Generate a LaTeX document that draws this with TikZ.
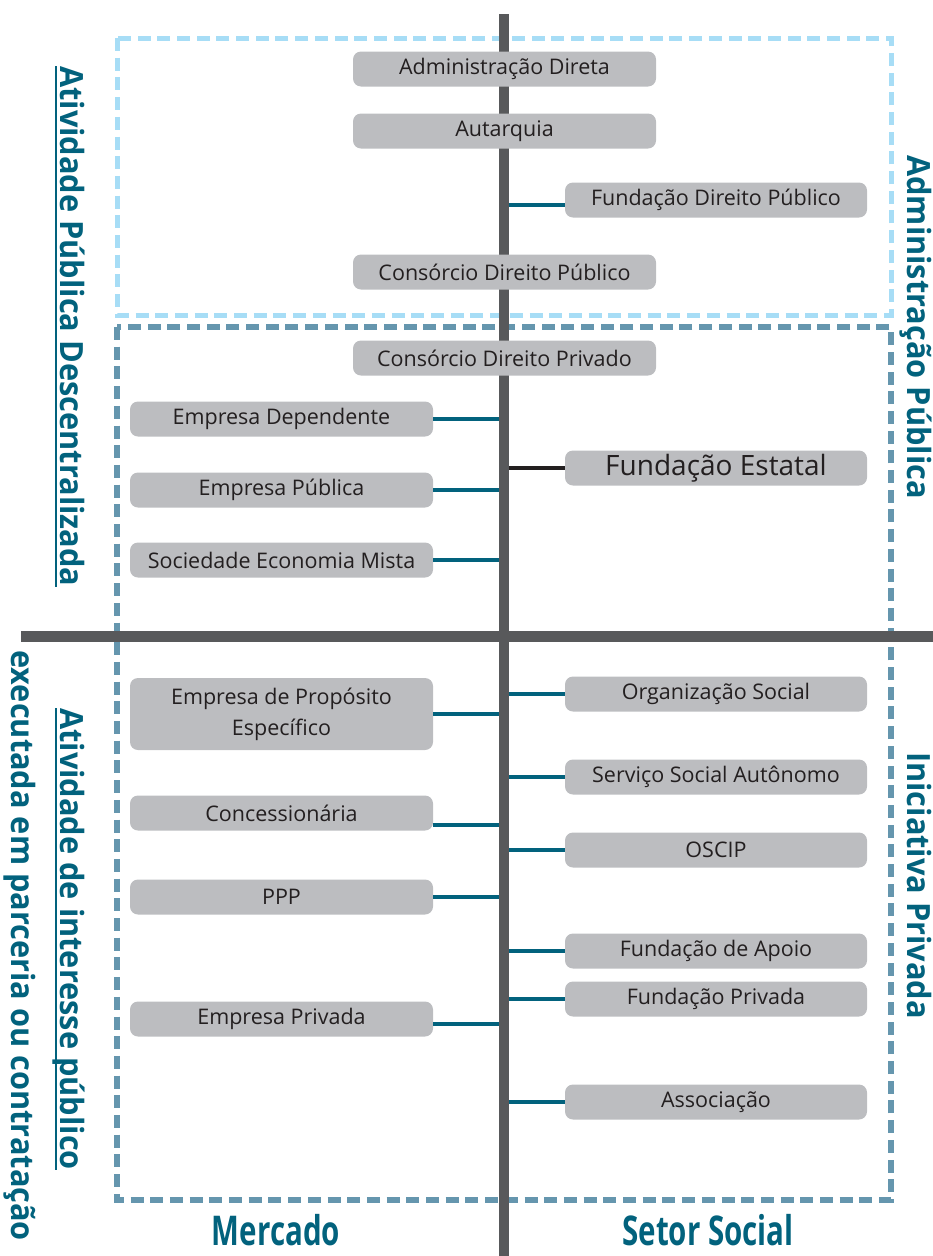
\documentclass[tikz,border=0pt]{standalone}
\usepackage{fontspec}
\setmainfont{Open Sans}
\newfontfamily\labfont[FakeStretch=0.96]{Open Sans}
\newfontfamily\colfont[FakeStretch=0.72]{Open Sans}
\definecolor{boxgray}{HTML}{BCBDC0}
\definecolor{txtdark}{HTML}{231F20}
\definecolor{teal}{HTML}{02627D}
\definecolor{spine}{HTML}{58595B}
\definecolor{lightdash}{HTML}{A7DDF6}
\definecolor{darkdash}{HTML}{6596AE}
\tikzset{
  gbox/.style={fill=boxgray, rounded corners=8pt, minimum height=35pt, inner sep=0pt,
    text=txtdark, font=\fontsize{21.5}{31}\selectfont, align=center},
  lbox/.style={gbox, minimum width=303pt},
  cbox/.style={gbox, minimum width=303pt},
  rbox/.style={gbox, minimum width=302pt},
  conn/.style={draw=teal, line width=4pt},
  sidelab/.style={rotate=-90, anchor=base west, inner sep=0pt, text=teal,
    font=\labfont\bfseries\fontsize{32}{36}\selectfont},
  ulline/.style={draw=teal, line width=2.5pt},
  collab/.style={anchor=base, inner sep=0pt, text=teal,
    font=\colfont\bfseries\fontsize{41}{46}\selectfont}
}
\begin{document}
\begin{tikzpicture}[x=1pt,y=-1pt]
\useasboundingbox (0,0) rectangle (933,1256);
% dashed frames
\draw[draw=lightdash, line width=5pt, dash pattern=on 13pt off 6.7pt]
  (117,38) rectangle (891,315);
\draw[draw=darkdash, line width=6pt, dash pattern=on 13pt off 6.7pt]
  (117,327) rectangle (891,1200);
% axes
\coordinate (spTop) at (504,14);
\coordinate (spBot) at (504,1256);
\coordinate (hL) at (21,636);
\coordinate (hR) at (933,636);
\draw[draw=spine, line width=11pt] (hL) -- (hR);
\draw[draw=spine, line width=10.5pt] (spTop) -- (spBot);
\coordinate (spL) at (499,0);
\coordinate (spR) at (509,0);
% boxes
\node[cbox] (adm) at (504.5,69) {Administração Direta};
\node[cbox] (aut) at (504.5,131) {Autarquia};
\node[rbox] (fdp) at (716,200) {Fundação Direito Público};
\node[cbox] (cdp) at (504.5,272) {Consórcio Direito Público};
\node[cbox] (cdpr) at (504.5,358) {Consórcio Direito Privado};
\node[lbox] (ed) at (281.5,419) {Empresa Dependente};
\node[lbox] (ep) at (281.5,490) {Empresa Pública};
\node[lbox] (sem) at (281.5,560) {Sociedade Economia Mista};
\node[rbox, font=\fontsize{28}{31}\selectfont] (fe) at (716,468) {Fundação Estatal};
\node[lbox, minimum height=72pt] (eps) at (281.5,714) {Empresa de Propósito\\Específico};
\node[lbox] (conc) at (281.5,813) {Concessionária};
\node[lbox] (ppp) at (281.5,897) {PPP};
\node[lbox] (epr) at (281.5,1019) {Empresa Privada};
\node[rbox] (os) at (716,694) {Organização Social};
\node[rbox] (ssa) at (716,777) {Serviço Social Autônomo};
\node[rbox] (oscip) at (716,850) {OSCIP};
\node[rbox] (fa) at (716,951) {Fundação de Apoio};
\node[rbox] (fp) at (716,999) {Fundação Privada};
\node[rbox] (assoc) at (716,1102) {Associação};
% connectors left
\draw[conn] (ed.east) -- (ed.east -| spL);
\draw[conn] (ep.east) -- (ep.east -| spL);
\draw[conn] (sem.east) -- (sem.east -| spL);
\draw[conn] (eps.east) -- (eps.east -| spL);
\draw[conn] ([yshift=-12pt]conc.east) -- ([yshift=-12pt]conc.east -| spL);
\draw[conn] (ppp.east) -- (ppp.east -| spL);
\draw[conn] ([yshift=-5pt]epr.east) -- ([yshift=-5pt]epr.east -| spL);
% connectors right
\draw[conn] ([yshift=-5pt]fdp.west -| spR) -- ([yshift=-5pt]fdp.west);
\draw[draw=txtdark, line width=3.5pt] (fe.west -| spR) -- (fe.west);
\draw[conn] (os.west -| spR) -- (os.west);
\draw[conn] (ssa.west -| spR) -- (ssa.west);
\draw[conn] (oscip.west -| spR) -- (oscip.west);
\draw[conn] (fa.west -| spR) -- (fa.west);
\draw[conn] (fp.west -| spR) -- (fp.west);
\draw[conn] (assoc.west -| spR) -- (assoc.west);
% side labels
\node[sidelab] (l1) at (60,66) {Atividade Pública Descentralizada};
\draw[ulline] ([xshift=-4pt]l1.base west) -- ([xshift=-4pt]l1.base east);
\node[sidelab] (l2) at (60,708) {Atividade de interesse público};
\draw[ulline] ([xshift=-4pt]l2.base west) -- ([xshift=-4pt]l2.base east);
\node[sidelab] (l3) at (12,650) {executada em parceria ou contratação};
\node[sidelab] (r1) at (907,155) {Administração Pública};
\node[sidelab] (r2) at (907,752) {Iniciativa Privada};
% column labels
\node[collab] (merc) at (276,1245) {Mercado};
\node[collab] (setor) at (708,1245) {Setor Social};
\end{tikzpicture}
\end{document}
